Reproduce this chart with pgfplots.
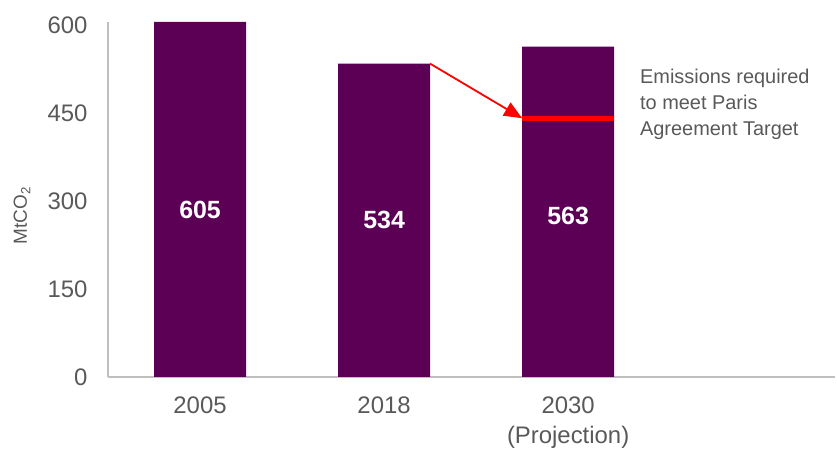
\documentclass[border=0pt]{standalone}
\usepackage{pgfplots}
\pgfplotsset{compat=1.18}
\usepackage{fontspec}
\setmainfont{Liberation Sans}
\usetikzlibrary{arrows.meta}
\definecolor{barpurple}{HTML}{5C0055}
\definecolor{txtgrey}{HTML}{595959}
\definecolor{axgrey}{HTML}{BFBFBF}
\begin{document}
\begin{tikzpicture}[x=1bp,y=1bp]
\path[use as bounding box] (0,0) rectangle (837,450);
\begin{axis}[
  at={(108bp,73bp)}, anchor=south west,
  scale only axis,
  width=727bp, height=355bp,
  xmin=-0.5, xmax=3.45,
  ymin=0, ymax=605,
  axis x line*=bottom, axis y line*=left,
  axis line style={axgrey, line width=1.2bp},
  xtick={0,1,2},
  xticklabels={2005,2018,{2030\\(Projection)}},
  xticklabel style={align=center, font=\fontsize{24}{30}\selectfont, text=txtgrey},
  ytick={0,150,300,450,600},
  yticklabel style={font=\fontsize{24}{28}\selectfont, text=txtgrey},
  /pgf/number format/assume math mode=true,
  major tick length=0pt,
  xticklabel shift=16bp,
  yticklabel shift=17bp,
  clip=false,
]
\addplot[ybar, bar width=0.5, fill=barpurple, draw=none] coordinates {(0,605) (1,534) (2,563)};
\addplot[red, line width=5bp] coordinates {(1.75,440) (2.25,440)};
\draw[red, line width=1.8bp, -{Triangle[length=18bp,width=15bp]}] (axis cs:1.25,534) -- (axis cs:1.75,441);
\node[text=white, font=\bfseries\fontsize{25}{28}\selectfont] at (axis cs:0,285) {605};
\node[text=white, font=\bfseries\fontsize{25}{28}\selectfont] at (axis cs:1,267) {534};
\node[text=white, font=\bfseries\fontsize{25}{28}\selectfont] at (axis cs:2,275) {563};
\node[anchor=north west, align=left, text=txtgrey, font=\fontsize{20}{26}\selectfont, inner sep=0pt] at (axis cs:2.39,525) {Emissions required\\to meet Paris\\Agreement Target};
\node[rotate=90, text=txtgrey, font=\fontsize{19}{22}\selectfont] at (axis cs:-0.967,275) {MtCO\textsubscript{2}};
\end{axis}
\end{tikzpicture}
\end{document}
